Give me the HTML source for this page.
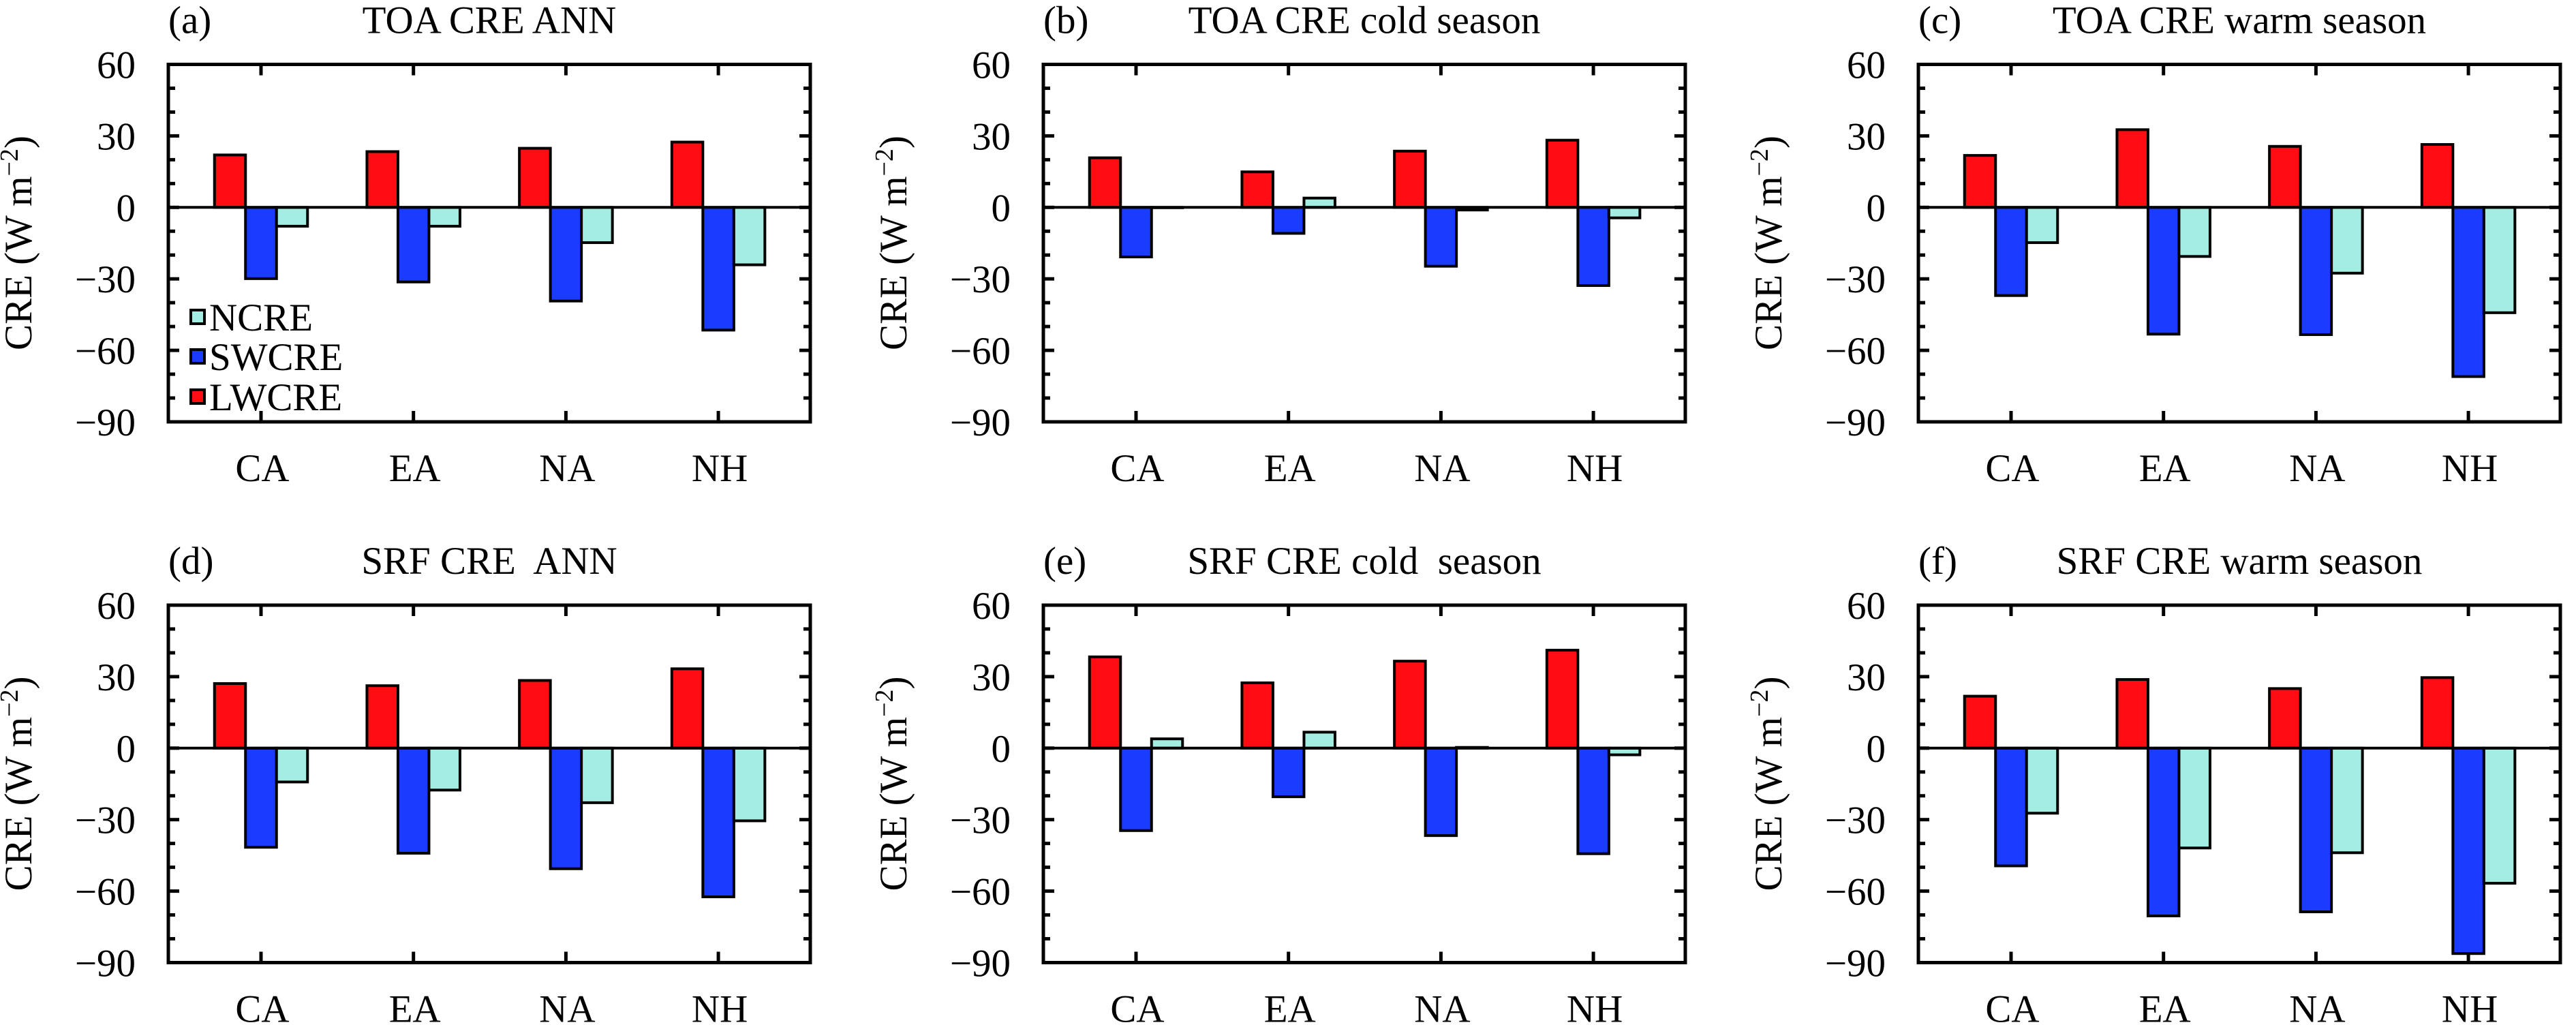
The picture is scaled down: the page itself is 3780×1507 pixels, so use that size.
<!DOCTYPE html>
<html><head><meta charset="utf-8"><style>
html,body{margin:0;padding:0;background:#fff;}
svg{display:block;}
svg text{font-family:"Liberation Serif","DejaVu Serif",serif;white-space:pre;}
</style></head><body>
<svg id="fig" width="3780" height="1507" viewBox="0 0 3780 1507" xmlns="http://www.w3.org/2000/svg" font-family="Liberation Serif, DejaVu Serif, serif"></svg>
<script>
const categories = ["CA","EA","NA","NH"];
const yTicks = [60,30,0,-30,-60,-90];
const seriesNames = ["LWCRE","SWCRE","NCRE"];
const colors = ["#ff0d12","#1a3cff","#a3ede2"];
const panelLabels = ["(a)","(b)","(c)","(d)","(e)","(f)"];
const panelTitles = ["TOA CRE ANN","TOA CRE cold season","TOA CRE warm season","SRF CRE  ANN","SRF CRE cold  season","SRF CRE warm season"];
const lwA = [22.0,23.4,24.8,27.4];
const swA = [-29.9,-31.3,-39.3,-51.5];
const ncA = [-7.9,-7.9,-14.8,-24.1];
const lwB = [20.8,14.9,23.6,28.2];
const swB = [-20.8,-10.9,-24.7,-32.8];
const ncB = [0.0,3.9,-1.1,-4.4];
const lwC = [21.8,32.6,25.6,26.4];
const swC = [-37.0,-53.2,-53.4,-71.0];
const ncC = [-14.8,-20.6,-27.6,-44.2];
const lwD = [27.1,26.2,28.4,33.3];
const swD = [-41.6,-44.1,-50.6,-62.4];
const ncD = [-14.2,-17.6,-22.9,-30.5];
const lwE = [38.3,27.4,36.5,41.1];
const swE = [-34.6,-20.4,-36.7,-44.3];
const ncE = [3.9,6.7,0.3,-2.8];
const lwF = [21.8,28.8,25.0,29.6];
const swF = [-49.4,-70.4,-68.7,-86.2];
const ncF = [-27.3,-41.9,-43.9,-56.7];
const panelData = [[lwA,swA,ncA],[lwB,swB,ncB],[lwC,swC,ncC],[lwD,swD,ncD],[lwE,swE,ncE],[lwF,swF,ncF]];

const NS = "http://www.w3.org/2000/svg";
const FF = "Liberation Serif, DejaVu Serif, serif";
const svg = document.getElementById("fig");
function mk(tag, attrs, parent){
  const e = document.createElementNS(NS, tag);
  for (const k in attrs) e.setAttribute(k, attrs[k]);
  if (tag === "text") e.setAttribute("font-family", FF);
  (parent||svg).appendChild(e);
  return e;
}
const W = 942, H = 524.5, lefts = [247,1531,2815], tops = [94.5,888];
const yMin = -90, yMax = 60;
const catSpacing = 223.7, catOffset = 136, barW = 45.5;
const fs = 57;

panelData.forEach((series, p) => {
  const col = p % 3, row = Math.floor(p / 3);
  const L = lefts[col], T = tops[row];
  const yS = v => T + (yMax - v) / (yMax - yMin) * H;
  const xS = i => L + catOffset + i * catSpacing;
  const g = mk("g", {});
  
  

  const lab = mk("text", {x: L, y: T - 46, "font-size": fs}, g);
  lab.textContent = panelLabels[p];
  
  
  const ttl = mk("text", {x: L + W/2, y: T - 46, "font-size": fs, "text-anchor": "middle", "xml:space": "preserve"}, g);
  ttl.textContent = panelTitles[p];
  
  

  const yt = mk("text", {x: 0, y: 0, "font-size": fs, "text-anchor": "middle", transform: `translate(${L-201},${T+262}) rotate(-90)`}, g);
  yt.innerHTML = 'CRE (W m<tspan dy="-20" font-size="38">−2</tspan><tspan dy="20">)</tspan>';
  
  

  yTicks.forEach(v => {
    const t = mk("text", {x: L - 48, y: yS(v) + 20, "font-size": fs, "text-anchor": "end"}, g);
    t.textContent = v < 0 ? "\u2212" + Math.abs(v) : String(v);
    
    
  });
  for (let v = yMin + 10; v < yMax; v += 10) {
    const len = (v % 30 === 0) ? 16 : 10;
    const tl = mk("line", {x1: L, x2: L + len, y1: yS(v), y2: yS(v), stroke: "#000", "stroke-width": 5}, g);
    
    
    const tr = mk("line", {x1: L + W, x2: L + W - len, y1: yS(v), y2: yS(v), stroke: "#000", "stroke-width": 5}, g);
    
    
  }
  categories.forEach((c, i) => {
    const x = xS(i);
    const tb = mk("line", {x1: x, x2: x, y1: T + H, y2: T + H - 16, stroke: "#000", "stroke-width": 5}, g);
    
    
    const tt = mk("line", {x1: x, x2: x, y1: T, y2: T + 16, stroke: "#000", "stroke-width": 5}, g);
    
    
    const ct = mk("text", {x: x + 2, y: T + H + 87, "font-size": fs, "text-anchor": "middle"}, g);
    ct.textContent = c;
    
    
  });
  series.forEach((vals, s) => {
    vals.forEach((v, i) => {
      const x = xS(i) + (s - 1) * barW - barW/2;
      const y0 = yS(0), y1 = yS(v);
      const r = mk("rect", {x: x, y: Math.min(y0, y1), width: barW, height: Math.max(Math.abs(y1 - y0), 0.5), fill: colors[s], stroke: "#000", "stroke-width": 4}, g);
      
      
    });
  });
  const z = mk("line", {x1: L, x2: L + W, y1: yS(0), y2: yS(0), stroke: "#000", "stroke-width": 4}, g);
  
  
  const fr = mk("rect", {x: L, y: T, width: W, height: H, fill: "none", stroke: "#000", "stroke-width": 5}, g);
  
  

  if (p === 0) {
    const order = [2,1,0];
    const ys = [465, 523, 582];
    order.forEach((s, k) => {
      const lb = mk("rect", {x: 280, y: ys[k] - 10, width: 20, height: 20, fill: colors[s], stroke: "#000", "stroke-width": 4}, g);
      
      
      const lt = mk("text", {x: 307, y: ys[k] + 20, "font-size": fs}, g);
      lt.textContent = seriesNames[s];
      
      
    });
  }
});
</script>
</body></html>
